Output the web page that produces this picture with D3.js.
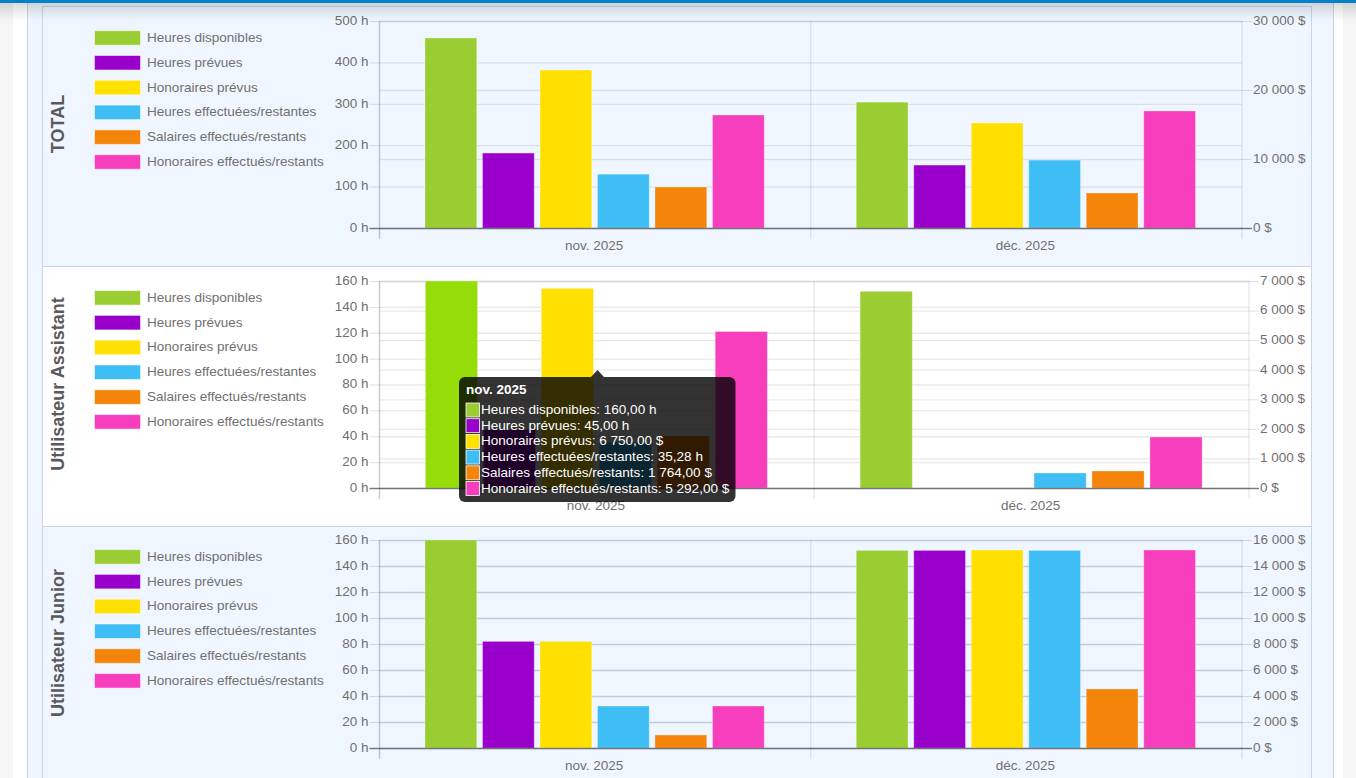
<!DOCTYPE html>
<html lang="fr">
<head>
<meta charset="utf-8">
<title>Heures et honoraires</title>
<script src="https://cdn.jsdelivr.net/npm/d3@7"></script>
<style>
  html, body { margin: 0; padding: 0; background: #fff; overflow: hidden; }
  svg { display: block; }
  text { font-family: "Liberation Sans", Arial, sans-serif; }
</style>
</head>
<body>
<svg id="chart" width="1356" height="778"></svg>
<script>
// values
const months = ['nov. 2025', 'déc. 2025'];
const seriesNames = ['Heures disponibles', 'Heures prévues', 'Honoraires prévus',
  'Heures effectuées/restantes', 'Salaires effectués/restants', 'Honoraires effectués/restants'];
const seriesUnits = ['h', 'h', '$', 'h', '$', '$'];

const panelTitles = ['TOTAL', 'Utilisateur Assistant', 'Utilisateur Junior'];

const totalValues = [[459, 181, 22900, 130, 5940, 16380], [304, 152, 15220, 164, 5070, 16960]];
const assistantValues = [[160, 45, 6750, 35.28, 1764, 5292], [152, 0, 0, 11.6, 575, 1725]];
const juniorValues = [[160, 82, 8200, 32.3, 1000, 3230], [152, 152, 15230, 152, 4540, 15230]];

const totalHourTicks = [0, 100, 200, 300, 400, 500];
const totalMoneyTicks = [0, 10000, 20000, 30000];
const assistantHourTicks = [0, 20, 40, 60, 80, 100, 120, 140, 160];
const assistantMoneyTicks = [0, 1000, 2000, 3000, 4000, 5000, 6000, 7000];
const juniorHourTicks = [0, 20, 40, 60, 80, 100, 120, 140, 160];
const juniorMoneyTicks = [0, 2000, 4000, 6000, 8000, 10000, 12000, 14000, 16000];

const colors = ['#9acd32', '#9900cc', '#ffe000', '#3fbef5', '#f4840a', '#f73fbe'];
const hoverGreen = '#95dc08';

const fr = d3.formatLocale({ decimal: ',', thousands: '\u00a0', grouping: [3], currency: ['', ' $'] });
const moneyTick = d => fr.format(',')(d) + '\u00a0$';
const hourTick = d => d + ' h';

const svg = d3.select('#chart');

// page furniture
svg.append('rect').attr('width', 1356).attr('height', 778).attr('fill', '#f5f5f5');
svg.append('rect').attr('x', 13).attr('width', 1330).attr('height', 778).attr('fill', '#fff');
svg.append('rect').attr('x', 27.5).attr('y', -2).attr('width', 1306).attr('height', 790)
  .attr('fill', '#f0f6ff').attr('stroke', '#c6d4f2');

const panels = [
  { title: panelTitles[0], values: totalValues, hourTicks: totalHourTicks, moneyTicks: totalMoneyTicks,
    boxTop: 6.5, boxBottom: 266.5, bg: '#f0f6ff', top: 21, bottom: 228, right: 1242, titleY: 124, legendY: 37.7 },
  { title: panelTitles[1], values: assistantValues, hourTicks: assistantHourTicks, moneyTicks: assistantMoneyTicks,
    boxTop: 266.5, boxBottom: 526.5, bg: '#fff', top: 281, bottom: 488, right: 1249, titleY: 384, legendY: 297.6 },
  { title: panelTitles[2], values: juniorValues, hourTicks: juniorHourTicks, moneyTicks: juniorMoneyTicks,
    boxTop: 526.5, boxBottom: 790, bg: '#f0f6ff', top: 540, bottom: 748, right: 1242, titleY: 643, legendY: 556.6 }
];
const plotLeft = 379.5;

panels.forEach((p, pi) => {
  const g = svg.append('g');
  g.append('rect').attr('x', 42.5).attr('y', p.boxTop).attr('width', 1269).attr('height', p.boxBottom - p.boxTop)
    .attr('fill', p.bg).attr('stroke', '#c6d4f2');

  g.append('text').attr('transform', `translate(64,${p.titleY}) rotate(-90)`)
    .attr('text-anchor', 'middle').attr('font-size', 18).attr('font-weight', 'bold')
    .attr('fill', '#5a5a5a').text(p.title);

  // legend
  const legend = g.append('g').selectAll('g').data(seriesNames).enter().append('g')
    .attr('transform', (d, i) => `translate(94.5,${p.legendY - 7 + i * 24.8})`);
  legend.append('rect').attr('width', 46).attr('height', 14.5)
    .attr('fill', (d, i) => colors[i]).attr('stroke', 'rgba(255,255,255,0.5)');
  legend.append('text').attr('x', 52.5).attr('y', 11.2).attr('font-size', 13.55).attr('fill', '#707070').text(d => d);

  const x0 = d3.scaleBand().domain(months).range([plotLeft, p.right]);
  const x1 = d3.scaleBand().domain(d3.range(seriesNames.length))
    .range([x0.bandwidth() * 0.1, x0.bandwidth() * 0.9]).paddingInner(0.1).paddingOuter(0.05);
  const yHours = d3.scaleLinear().domain(d3.extent(p.hourTicks)).range([p.bottom, p.top]);
  const yMoney = d3.scaleLinear().domain(d3.extent(p.moneyTicks)).range([p.bottom, p.top]);

  // axes and grid
  const width = p.right - plotLeft;
  const left = g.append('g').attr('transform', `translate(${plotLeft},0)`)
    .call(d3.axisLeft(yHours).tickValues(p.hourTicks).tickFormat(hourTick).tickSizeInner(-width).tickSizeOuter(0).tickPadding(11));
  const right = g.append('g').attr('transform', `translate(${p.right},0)`)
    .call(d3.axisRight(yMoney).tickValues(p.moneyTicks).tickFormat(moneyTick).tickSizeInner(-width).tickSizeOuter(0).tickPadding(11));
  [left, right].forEach(ax => {
    ax.select('.domain').remove();
    ax.selectAll('.tick line').attr('stroke', 'rgba(0,0,0,0.09)').attr('stroke-width', 1.3);
    ax.selectAll('text').attr('font-size', 13.5).attr('fill', '#707070').attr('dy', '0.25em')
      .attr('font-family', '"Liberation Sans", Arial, sans-serif');
  });
  // short tick marks outside the plot
  left.selectAll('.tick').append('line').attr('x1', -10).attr('x2', 0).attr('stroke', 'rgba(0,0,0,0.12)');
  right.selectAll('.tick').append('line').attr('x1', 0).attr('x2', 10).attr('stroke', 'rgba(0,0,0,0.12)');

  // vertical dividers
  g.append('g').selectAll('line').data([plotLeft, x0(months[1]), p.right]).enter().append('line')
    .attr('x1', d => d).attr('x2', d => d).attr('y1', p.top).attr('y2', p.bottom + 11)
    .attr('stroke', (d, i) => i === 0 ? 'rgba(0,0,0,0.2)' : 'rgba(0,0,0,0.08)').attr('stroke-width', 1.5);

  // bars
  months.forEach((m, mi) => {
    g.append('g').selectAll('rect').data(p.values[mi]).enter().append('rect')
      .attr('x', (d, i) => x0(m) + x1(i) - 0.5)
      .attr('width', x1.bandwidth())
      .attr('y', (d, i) => (seriesUnits[i] === 'h' ? yHours : yMoney)(d))
      .attr('height', (d, i) => p.bottom - (seriesUnits[i] === 'h' ? yHours : yMoney)(d))
      .attr('fill', (d, i) => (pi === 1 && mi === 0 && i === 0) ? hoverGreen : colors[i])
      .attr('stroke', 'rgba(255,255,255,0.3)');
  });

  // baseline
  g.append('line').attr('x1', plotLeft - 10).attr('x2', p.right + 10).attr('y1', p.bottom + 0.5).attr('y2', p.bottom + 0.5)
    .attr('stroke', 'rgba(0,0,0,0.45)').attr('stroke-width', 1.5);

  // month labels
  g.append('g').selectAll('text').data(months).enter().append('text')
    .attr('x', d => x0(d) + x0.bandwidth() / 2 - 1).attr('y', p.bottom + 21.5)
    .attr('text-anchor', 'middle').attr('font-size', 13.5).attr('fill', '#707070').text(d => d);
});

// tooltip on the assistant panel, november
const hoverValues = assistantValues[0];
const hourFmt = fr.format(',.2f');
const tip = svg.append('g').attr('transform', 'translate(459,377)');
const tipFill = 'rgba(0,0,0,0.8)';
tip.append('path').attr('d', d3.line()([[132, 0], [138.5, -7], [145, 0]])).attr('fill', tipFill);
tip.append('rect').attr('width', 276.5).attr('height', 125).attr('rx', 6).attr('fill', tipFill);
tip.append('text').attr('x', 7).attr('y', 17).attr('font-size', 13.5).attr('font-weight', 'bold').attr('fill', '#fff').text(months[0]);
const tipRows = tip.append('g').selectAll('g').data(seriesNames).enter().append('g')
  .attr('transform', (d, i) => `translate(7,${26 + i * 15.7})`);
tipRows.append('rect').attr('width', 13.5).attr('height', 14).attr('fill', (d, i) => colors[i]).attr('stroke', '#fff').attr('stroke-width', 0.8);
tipRows.append('text').attr('x', 15).attr('y', 11).attr('font-size', 13.55).attr('fill', '#fff')
  .text((d, i) => `${d}: ${hourFmt(hoverValues[i])} ${seriesUnits[i]}`);

// top bar with its drop shadow
const defs = svg.append('defs');
const shade = defs.append('linearGradient').attr('id', 'topShade').attr('x1', 0).attr('x2', 0).attr('y1', 0).attr('y2', 1);
shade.append('stop').attr('offset', 0).attr('stop-color', '#000').attr('stop-opacity', 0.14);
shade.append('stop').attr('offset', 1).attr('stop-color', '#000').attr('stop-opacity', 0);
svg.append('rect').attr('y', 3).attr('width', 1356).attr('height', 18).attr('fill', 'url(#topShade)');
svg.append('rect').attr('width', 1356).attr('height', 3).attr('fill', '#0480c8');
</script>
</body>
</html>
